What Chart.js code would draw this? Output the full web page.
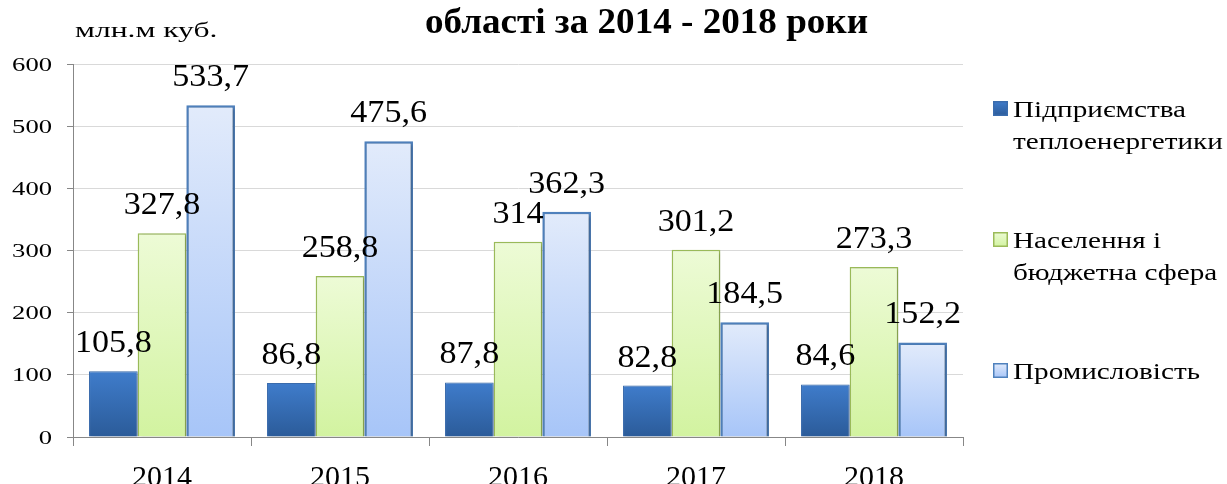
<!DOCTYPE html>
<html lang="uk">
<head>
<meta charset="utf-8">
<title>Споживання газу</title>
<script src="https://cdn.jsdelivr.net/npm/chart.js@4.4.0/dist/chart.umd.min.js"></script>
<style>
    html, body { margin: 0; padding: 0; background: #fff; }
    #wrap { width: 1227px; height: 484px; position: relative; }
</style>
</head>
<body>
<div id="wrap"><canvas id="chart" width="1227" height="484"></canvas></div>
<script>
// Дані (млн. м куб.)
const years = ['2014', '2015', '2016', '2017', '2018'];
const heatEnergy = [105.8, 86.8, 87.8, 82.8, 84.6];
const population = [327.8, 258.8, 314, 301.2, 273.3];
const industry = [533.7, 475.6, 362.3, 184.5, 152.2];
const seriesNames = [
    ['Підприємства', 'теплоенергетики'],
    ['Населення і', 'бюджетна сфера'],
    ['Промисловість']
];
const chartTitle = 'області за 2014 - 2018 роки';
const unitLabel = 'млн.м куб.';

const SERIF = '"Liberation Serif", "Times New Roman", serif';
const AXIS_GREY = '#878787';

// Градієнт для кожного стовпчика: світліше зверху, темніше знизу
function barGradient(top, bottom) {
    return function (c) {
        const chart = c.chart;
        const yS = chart.scales.y;
        if (!chart.chartArea || !yS || c.raw == null) return bottom;
        const y0 = yS.getPixelForValue(c.raw);
        const y1 = yS.getPixelForValue(0);
        if (!isFinite(y0) || !isFinite(y1) || y0 === y1) return bottom;
        const g = chart.ctx.createLinearGradient(0, y0, 0, y1);
        g.addColorStop(0, top);
        g.addColorStop(1, bottom);
        return g;
    };
}

// Текст з горизонтальним розтягуванням
function stretchText(ctx, text, x, y, font, sx, align, color) {
    ctx.save();
    ctx.font = font;
    ctx.fillStyle = color || '#000';
    ctx.textAlign = align || 'left';
    ctx.textBaseline = 'alphabetic';
    ctx.translate(x, y);
    ctx.scale(sx, 1);
    ctx.fillText(text, 0, 0);
    ctx.restore();
}

const fmt = v => String(v).replace('.', ',');

const legendStyles = [
    { top: '#3f7ccb', bottom: '#2b5b99', border: '#3a6cad' },
    { top: '#edfbd6', bottom: '#d2f3a0', border: '#9bbb59' },
    { top: '#e2ebfb', bottom: '#a7c5f8', border: '#4f81bd' }
];

const shadowPlugin = {
    id: 'barShadow',
    beforeDatasetsDraw(chart) {
        const ctx = chart.ctx;
        ctx.save();
        ctx.shadowColor = 'rgba(0,0,0,0.28)';
        ctx.shadowBlur = 3;
        ctx.shadowOffsetX = 1.5;
        ctx.shadowOffsetY = 1.5;
    },
    afterDatasetsDraw(chart) {
        chart.ctx.restore();
    }
};

const textPlugin = {
    id: 'texts',
    afterDraw(chart) {
        const ctx = chart.ctx;
        const yS = chart.scales.y;
        const xS = chart.scales.x;

        // Підписи осі Y
        yS.ticks.forEach((t, i) => {
            const py = yS.getPixelForTick(i);
            stretchText(ctx, String(t.value), yS.right - 21, py + 6.5, '19px ' + SERIF, 1.4, 'right');
        });

        // Підписи осі X (обрізані знизу, як в оригіналі)
        xS.ticks.forEach((t, i) => {
            const px = xS.getPixelForTick(i);
            stretchText(ctx, xS.getLabelForValue(t.value), px, 486, '30px ' + SERIF, 1.0, 'center');
        });

        // Значення над стовпчиками
        chart.data.datasets.forEach((ds, di) => {
            chart.getDatasetMeta(di).data.forEach((bar, i) => {
                stretchText(ctx, fmt(ds.data[i]), bar.x, bar.y - 19, '31px ' + SERIF, 1.1, 'center');
            });
        });

        // Заголовок і одиниці виміру
        stretchText(ctx, chartTitle, 425, 33, 'bold 35px ' + SERIF, 1.06, 'left');
        stretchText(ctx, unitLabel, 75, 36.5, '21px ' + SERIF, 1.5, 'left');

        // Легенда
        let y = 117;
        seriesNames.forEach((lines, i) => {
            const st = legendStyles[i];
            const g = ctx.createLinearGradient(0, y - 16, 0, y - 1);
            g.addColorStop(0, st.top);
            g.addColorStop(1, st.bottom);
            ctx.save();
            ctx.fillStyle = g;
            ctx.fillRect(993, y - 16, 15, 15);
            ctx.strokeStyle = st.border;
            ctx.lineWidth = 1.5;
            ctx.strokeRect(993.75, y - 15.25, 13.5, 13.5);
            ctx.restore();
            lines.forEach((line, li) => {
                stretchText(ctx, line, 1013, y + li * 32, '23px ' + SERIF, 1.27, 'left');
            });
            y += (lines.length - 1) * 32 + 99;
        });
    }
};

const ctx = document.getElementById('chart').getContext('2d');
new Chart(ctx, {
    type: 'bar',
    data: {
        labels: years,
        datasets: [
            {
                label: seriesNames[0].join(' '),
                data: heatEnergy,
                backgroundColor: barGradient('#3f7ccb', '#2b5b99'),
                borderColor: '#3a6cad',
                borderWidth: 1
            },
            {
                label: seriesNames[1].join(' '),
                data: population,
                backgroundColor: barGradient('#edfbd6', '#d2f3a0'),
                borderColor: '#9bbb59',
                borderWidth: 1.5
            },
            {
                label: seriesNames[2].join(' '),
                data: industry,
                backgroundColor: barGradient('#e2ebfb', '#a7c5f8'),
                borderColor: '#4f81bd',
                borderWidth: 2.5
            }
        ]
    },
    options: {
        responsive: false,
        devicePixelRatio: 1,
        animation: false,
        layout: { padding: { top: 64, right: 264, left: 0, bottom: 0 } },
        datasets: {
            bar: { categoryPercentage: 0.82, barPercentage: 1.0 }
        },
        plugins: {
            legend: { display: false },
            tooltip: { enabled: false },
            title: { display: false }
        },
        scales: {
            x: {
                afterFit: s => { s.height = 47; },
                ticks: { display: false },
                grid: {
                    offset: true,
                    drawOnChartArea: false,
                    drawTicks: true,
                    tickLength: 9,
                    color: AXIS_GREY
                },
                border: { color: AXIS_GREY, width: 1 }
            },
            y: {
                min: 0,
                max: 600,
                afterFit: s => { s.width = 73; },
                ticks: { display: false, stepSize: 100 },
                grid: {
                    color: '#d9d9d9',
                    tickColor: AXIS_GREY,
                    tickLength: 6
                },
                border: { color: AXIS_GREY, width: 1 }
            }
        }
    },
    plugins: [shadowPlugin, textPlugin]
});
</script>
</body>
</html>
